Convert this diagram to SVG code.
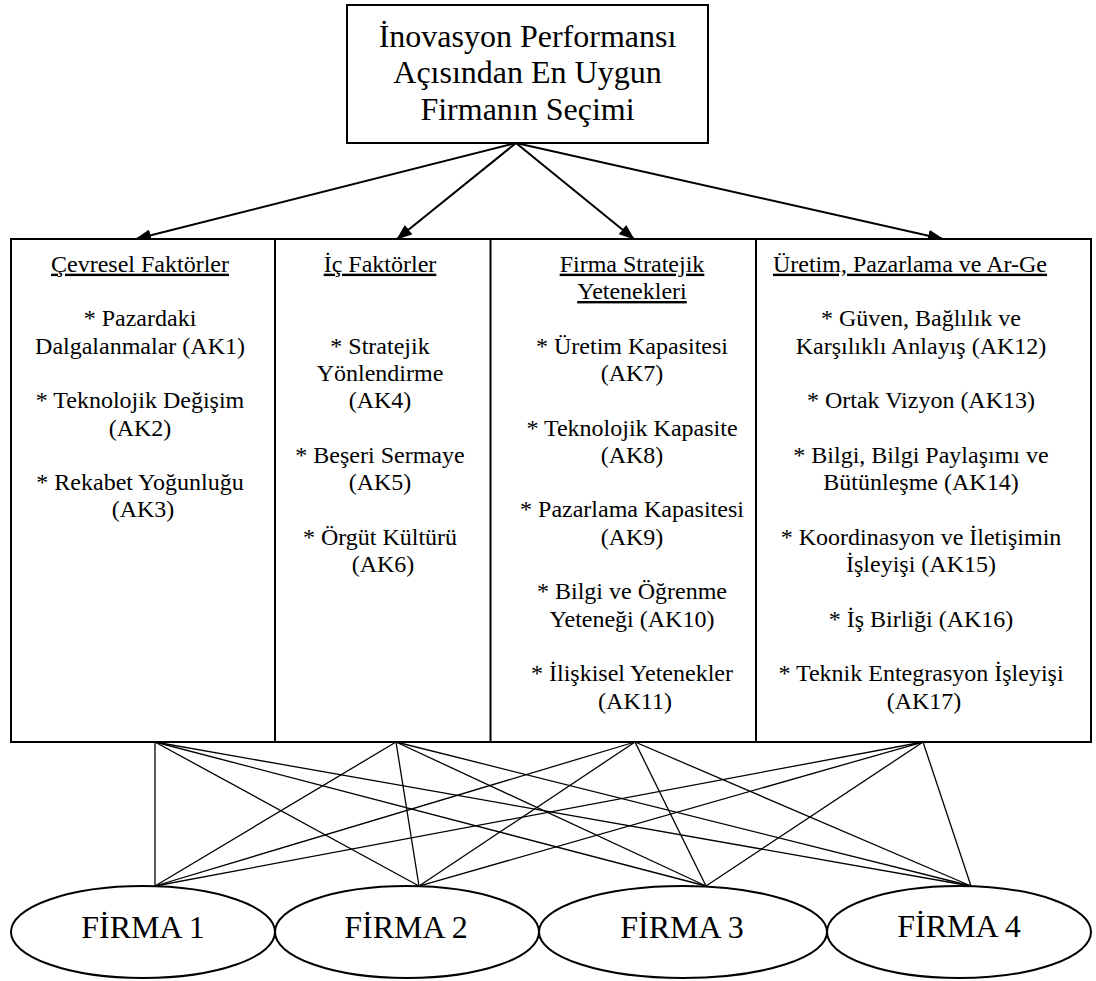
<svg xmlns="http://www.w3.org/2000/svg" width="1096" height="981" viewBox="0 0 1096 981">
<style>
  text { font-family: 'Liberation Serif', 'Times New Roman', Times, 'DejaVu Serif', serif; fill: #000; text-anchor: middle; }
  .big { font-size: 32px; }
  .col { font-size: 24px; }
  .u { text-decoration: underline; }
  .box { fill: #fff; stroke: #000; stroke-width: 2; }
  .arrow { stroke: #000; stroke-width: 2; fill: none; }
  .conn { stroke: #000; stroke-width: 1.3; fill: none; }
</style>
<defs>
  <marker id="ah" markerUnits="userSpaceOnUse" markerWidth="16" markerHeight="12" refX="15" refY="6" orient="auto">
    <path d="M0,0 L16,6 L0,12 Z" fill="#000"/>
  </marker>
</defs>
<rect width="1096" height="981" fill="#fff"/>

<g id="connectors">
  <line class="arrow" x1="516" y1="143" x2="136" y2="239" marker-end="url(#ah)"/>
  <line class="arrow" x1="516" y1="143" x2="397" y2="239" marker-end="url(#ah)"/>
  <line class="arrow" x1="516" y1="143" x2="634" y2="239" marker-end="url(#ah)"/>
  <line class="arrow" x1="516" y1="143" x2="943" y2="239" marker-end="url(#ah)"/>

  <line class="conn" x1="155" y1="742" x2="155" y2="886"/>
  <line class="conn" x1="155" y1="742" x2="419" y2="886"/>
  <line class="conn" x1="155" y1="742" x2="706" y2="886"/>
  <line class="conn" x1="155" y1="742" x2="971" y2="886"/>

  <line class="conn" x1="396" y1="742" x2="155" y2="886"/>
  <line class="conn" x1="396" y1="742" x2="419" y2="886"/>
  <line class="conn" x1="396" y1="742" x2="706" y2="886"/>
  <line class="conn" x1="396" y1="742" x2="971" y2="886"/>

  <line class="conn" x1="635" y1="742" x2="155" y2="886"/>
  <line class="conn" x1="635" y1="742" x2="419" y2="886"/>
  <line class="conn" x1="635" y1="742" x2="706" y2="886"/>
  <line class="conn" x1="635" y1="742" x2="971" y2="886"/>

  <line class="conn" x1="923" y1="742" x2="155" y2="886"/>
  <line class="conn" x1="923" y1="742" x2="419" y2="886"/>
  <line class="conn" x1="923" y1="742" x2="706" y2="886"/>
  <line class="conn" x1="923" y1="742" x2="971" y2="886"/>
</g>

<g font-family="Liberation Serif, Times New Roman, serif">
<g id="goal">
  <rect class="box" x="347" y="5" width="361" height="138"/>
  <text class="big" x="527.5" y="46.7">İnovasyon Performansı</text>
  <text class="big" x="527.5" y="83.3">Açısından En Uygun</text>
  <text class="big" x="527.5" y="120">Firmanın Seçimi</text>
</g>

<g id="criteria-frame">
  <rect class="box" x="11" y="239" width="1080" height="503"/>
</g>

<g id="col1">
  <text class="col">
    <tspan class="u" x="143" y="271.7">Çevresel Faktörler</tspan>
    <tspan x="143" y="326.3">* Pazardaki</tspan>
    <tspan x="143" y="353.6">Dalgalanmalar (AK1)</tspan>
    <tspan x="143" y="408.2">* Teknolojik Değişim</tspan>
    <tspan x="143" y="435.5">(AK2)</tspan>
    <tspan x="143" y="490.1">* Rekabet Yoğunluğu</tspan>
    <tspan x="143" y="517.4">(AK3)</tspan>
  </text>
</g>

<g id="col2">
  <line class="box" x1="275" y1="239" x2="275" y2="742"/>
  <text class="col">
    <tspan class="u" x="383" y="271.7">İç Faktörler</tspan>
    <tspan x="383" y="353.6">* Stratejik</tspan>
    <tspan x="383" y="380.9">Yönlendirme</tspan>
    <tspan x="383" y="408.2">(AK4)</tspan>
    <tspan x="383" y="462.8">* Beşeri Sermaye</tspan>
    <tspan x="383" y="490.1">(AK5)</tspan>
    <tspan x="383" y="544.7">* Örgüt Kültürü</tspan>
    <tspan x="383" y="572">(AK6)</tspan>
  </text>
</g>

<g id="col3">
  <line class="box" x1="490.5" y1="239" x2="490.5" y2="742"/>
  <text class="col">
    <tspan class="u" x="635" y="271.7">Firma Stratejik</tspan>
    <tspan class="u" x="635" y="299">Yetenekleri</tspan>
    <tspan x="635" y="353.6">* Üretim Kapasitesi</tspan>
    <tspan x="635" y="380.9">(AK7)</tspan>
    <tspan x="635" y="435.5">* Teknolojik Kapasite</tspan>
    <tspan x="635" y="462.8">(AK8)</tspan>
    <tspan x="635" y="517.4">* Pazarlama Kapasitesi</tspan>
    <tspan x="635" y="544.7">(AK9)</tspan>
    <tspan x="635" y="599.3">* Bilgi ve Öğrenme</tspan>
    <tspan x="635" y="626.6">Yeteneği (AK10)</tspan>
    <tspan x="635" y="681.2">* İlişkisel Yetenekler</tspan>
    <tspan x="635" y="708.5">(AK11)</tspan>
  </text>
</g>

<g id="col4">
  <line class="box" x1="756" y1="239" x2="756" y2="742"/>
  <text class="col">
    <tspan class="u" x="913" y="271.7">Üretim, Pazarlama ve Ar-Ge</tspan>
    <tspan x="924" y="326.3">* Güven, Bağlılık ve</tspan>
    <tspan x="924" y="353.6">Karşılıklı Anlayış (AK12)</tspan>
    <tspan x="924" y="408.2">* Ortak Vizyon (AK13)</tspan>
    <tspan x="924" y="462.8">* Bilgi, Bilgi Paylaşımı ve</tspan>
    <tspan x="924" y="490.1">Bütünleşme (AK14)</tspan>
    <tspan x="924" y="544.7">* Koordinasyon ve İletişimin</tspan>
    <tspan x="924" y="572">İşleyişi (AK15)</tspan>
    <tspan x="924" y="626.6">* İş Birliği (AK16)</tspan>
    <tspan x="924" y="681.2">* Teknik Entegrasyon İşleyişi</tspan>
    <tspan x="924" y="708.5">(AK17)</tspan>
  </text>
</g>

<g id="firma1">
  <ellipse class="box" cx="143" cy="932" rx="132" ry="46"/>
  <text class="big" x="143" y="938">FİRMA 1</text>
</g>
<g id="firma2">
  <ellipse class="box" cx="407" cy="932" rx="132" ry="46"/>
  <text class="big" x="406" y="938">FİRMA 2</text>
</g>
<g id="firma3">
  <ellipse class="box" cx="683" cy="932" rx="144" ry="46"/>
  <text class="big" x="682" y="938">FİRMA 3</text>
</g>
<g id="firma4">
  <ellipse class="box" cx="959" cy="932" rx="132" ry="46"/>
  <text class="big" x="959" y="937">FİRMA 4</text>
</g>
</g>
</svg>
